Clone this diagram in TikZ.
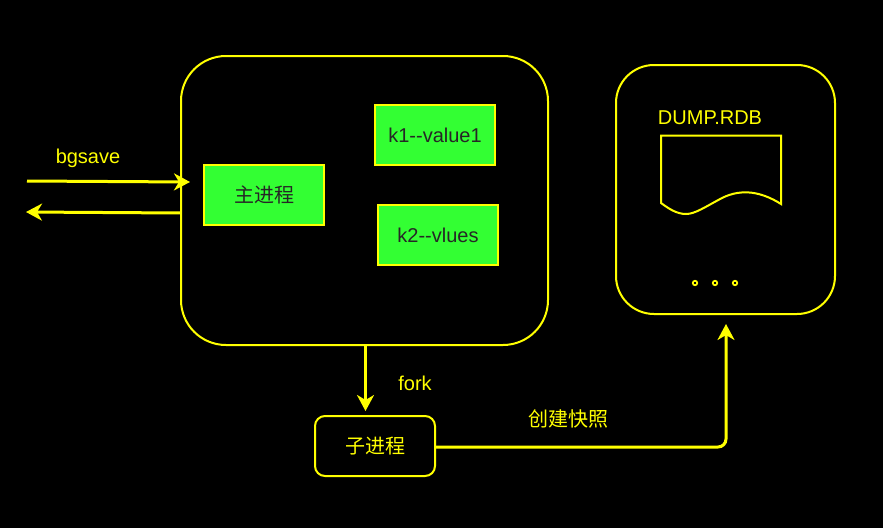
\documentclass[tikz,border=0pt]{standalone}
\usepackage{fontspec}
\setmainfont{Liberation Sans}
\newfontfamily\cjk{Noto Sans CJK SC}
\usetikzlibrary{arrows.meta}
\definecolor{ylw}{RGB}{255,255,0}
\definecolor{grn}{RGB}{51,255,51}
\tikzset{
  x=1pt,y=-1pt,
  box/.style={draw=ylw,line width=2pt,anchor=north west,inner sep=0pt,outer sep=0pt},
  greenbox/.style={box,fill=grn,minimum width=120pt,minimum height=60pt,text=black!85,font=\fontsize{20}{22}\selectfont},
  lbl/.style={text=ylw,inner sep=0pt,font=\fontsize{20}{22}\selectfont},
  conn/.style={draw=ylw,line width=3pt,-{Stealth[length=16pt,width=17pt,inset=5pt]}},
}
\begin{document}
\begin{tikzpicture}
\useasboundingbox (0,0) rectangle (883,528);
\fill[black] (0,0) rectangle (883,528);
\node[box,rounded corners=45pt,minimum width=367pt,minimum height=289pt] (main) at (181,56) {};
\node[box,rounded corners=38pt,minimum width=219pt,minimum height=249pt] (dump) at (616,65) {};
\node[box,rounded corners=10pt,minimum width=120pt,minimum height=60pt,text=ylw,font=\fontsize{20}{22}\selectfont\cjk] (child) at (315,416) {\raisebox{-1pt}{子进程}};
\node[greenbox,font=\fontsize{20}{22}\selectfont\cjk] (proc) at (204,165) {\raisebox{-0.5pt}{主进程}};
\node[greenbox] (k1) at (375,105) {\raisebox{-0.5pt}{k1{-}{-}value1}};
\node[greenbox] (k2) at (378,205) {\raisebox{-0.5pt}{k2{-}{-}vlues}};
\node[lbl] (bg) at (88,158) {bgsave};
\node[lbl] (fork) at (415,383) {fork};
\node[lbl,font=\fontsize{20}{22}\selectfont\cjk] (snap) at (568,418.5) {创建快照};
\node[lbl] (rdb) at (710,117.5) {DUMP.RDB};
\draw[draw=ylw,line width=2pt,line join=miter] (661,135.5) -- (781,135.5) -- (781,204)
  .. controls (762,192) and (742,188) .. (722,198)
  .. controls (705,207) and (695,214) .. (686,214)
  .. controls (676,214) and (668,208) .. (661,203) -- cycle;
\foreach \i/\px in {a/695,b/715,c/735}{
  \node[draw=ylw,line width=1.7pt,circle,minimum size=4.5pt,inner sep=0pt] (dot\i) at (\px,283) {};
}
\coordinate (inA) at (27,181);
\coordinate (inB) at (190,182);
\coordinate (outA) at (181,213);
\coordinate (outB) at (26,212);
\coordinate (forkA) at (365.5,345);
\coordinate (forkB) at (365.5,411);
\coordinate (snapB) at (726,324);
\coordinate (snapA) at ([yshift=-1pt]child.east);
\draw[conn] (inA) -- (inB);
\draw[conn] (outA) -- (outB);
\draw[conn] (forkA) -- (forkB);
\draw[conn,rounded corners=8pt] (snapA) -- (snapB |- snapA) -- (snapB);
\end{tikzpicture}
\end{document}
